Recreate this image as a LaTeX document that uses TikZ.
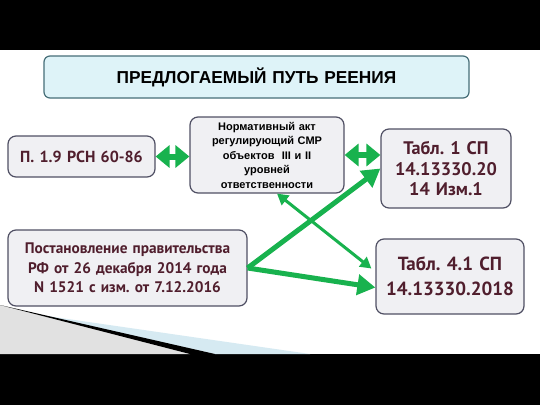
\documentclass[tikz,border=0pt]{standalone}
\usepackage{fontspec}
\usepackage{xcolor}
\usepackage{tikz}
\setmainfont{PT Sans}
\newfontfamily\arialfont{Liberation Sans}
\frenchspacing
\definecolor{boxgray}{RGB}{240, 240, 243}
\definecolor{boxedge}{RGB}{80, 80, 100}
\definecolor{titlefill}{RGB}{222, 243, 248}
\definecolor{titleedge}{RGB}{70, 110, 120}
\definecolor{maroon}{RGB}{80, 30, 45}
\definecolor{arrowgreen}{RGB}{24, 178, 78}
\definecolor{swooshblue}{RGB}{214, 234, 242}
\definecolor{swooshgray}{RGB}{225, 225, 225}
\usetikzlibrary{arrows.meta, positioning, calc}

\tikzset{
    docbox/.style={draw=boxedge, fill=boxgray, line width=1.2pt, rounded corners=8pt,
                   align=center, inner sep=2pt, text=maroon, font=\bfseries},
    bigarrow/.style={draw=arrowgreen, line width=5pt,
                     -{Triangle[length=18pt,width=20pt]}},
    linkarrow/.style={draw=arrowgreen, line width=6pt,
                      {Triangle[length=14pt,width=22pt]}-{Triangle[length=14pt,width=22pt]}},
    thinarrow/.style={draw=arrowgreen, line width=3pt,
                      {Triangle[length=11pt,width=12pt]}-{Triangle[length=11pt,width=12pt]}}
}

\begin{document}
\begin{tikzpicture}[x=1pt, y=-1pt]
        \useasboundingbox (0,0) rectangle (540,405);
        \fill[white] (0,0) rectangle (540,405);
        \fill[black] (0,0) rectangle (540,50);
        \fill[black] (0,354) rectangle (540,405);
        \fill[swooshgray] (0,305) -- (190,354) -- (0,354) -- cycle;
        \fill[swooshblue] (40,315) -- (310,354) -- (215,354) -- cycle;
        \fill[black] (0,305) -- (215,354) -- (190,354) -- cycle;

        \node[draw=titleedge, fill=titlefill, line width=1.2pt, rounded corners=6pt,
              text width=421pt, minimum height=42pt, align=center, inner sep=2pt,
              font=\arialfont\bfseries\fontsize{17.3}{20}\selectfont] (title) at (256.5,77)
            {ПРЕДЛОГАЕМЫЙ ПУТЬ РЕЕНИЯ};

        \node[docbox, text width=143pt, minimum height=41pt,
              font=\bfseries\fontsize{16}{19}\selectfont] (rsn) at (81.5,156.5)
            {П. 1.9 РСН 60-86};
        \node[docbox, text width=150pt, minimum height=76pt, text=black,
              font=\arialfont\bfseries\fontsize{11}{14.5}\selectfont] (normact) at (267,155)
            {Нормативный акт\\ регулирующий СМР\\ объектов \ III и II\\ уровней\\ ответственности};
        \node[docbox, text width=126pt, minimum height=79pt,
              font=\bfseries\fontsize{18.2}{20.5}\selectfont] (tabone) at (446,168.5)
            {Табл. 1 СП\\ 14.13330.20\\ 14 Изм.1};
        \node[docbox, text width=235pt, minimum height=76pt,
              font=\bfseries\fontsize{15.3}{19.5}\selectfont] (decree) at (127.5,268)
            {Постановление правительства\\ РФ от 26 декабря 2014 года\\ N 1521 с изм. от 7.12.2016};
        \node[docbox, text width=144pt, minimum height=75pt,
              font=\bfseries\fontsize{19}{25}\selectfont] (tabfour) at (450,276.5)
            {Табл. 4.1 СП\\ 14.13330.2018};

        \draw[linkarrow] (rsn.east) -- (rsn.east -| normact.west);
        \draw[linkarrow] (normact.east) -- (normact.east -| tabone.west);
        \draw[thinarrow] ([xshift=10pt]normact.south) -- ([shift={(-4pt,8pt)}]tabfour.west);
        \draw[bigarrow] (decree.east) -- (tabone.west);
        \draw[bigarrow] (decree.east) -- ([yshift=-11pt]tabfour.west);
    \end{tikzpicture}
\end{document}
